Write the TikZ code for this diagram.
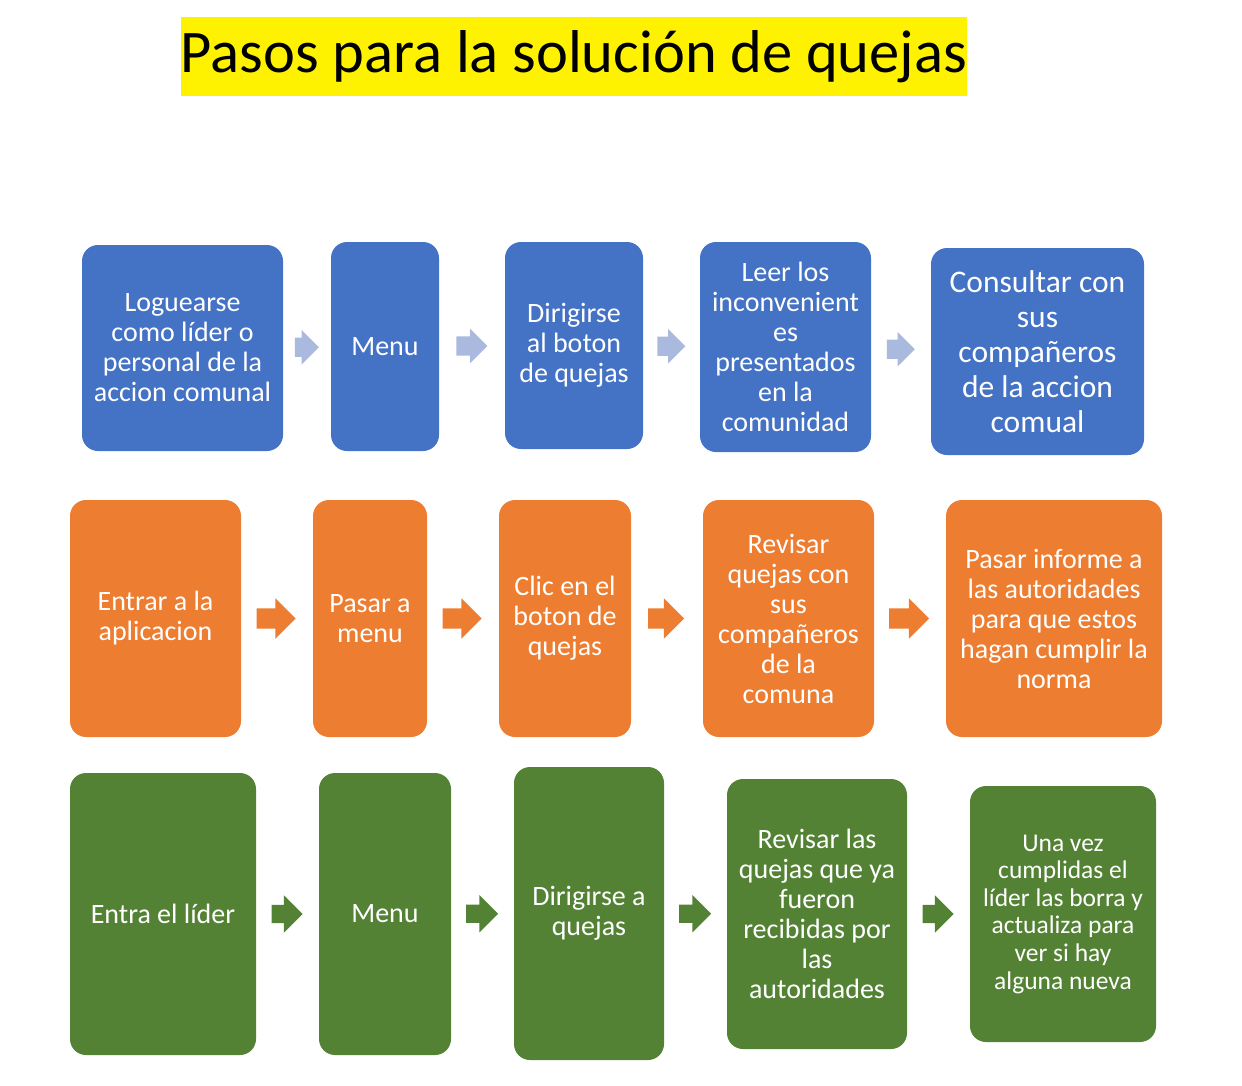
\documentclass[tikz,border=0pt]{standalone}
\usepackage{fontspec}
\setmainfont{Carlito}
\usetikzlibrary{shapes.arrows,calc}

\definecolor{pasoazul}{HTML}{4472C4}
\definecolor{pasonaranja}{HTML}{ED7D31}
\definecolor{pasoverde}{HTML}{548235}
\definecolor{flechaazul}{HTML}{AAB9DE}

\begin{document}
\begin{tikzpicture}[x=1pt,y=-1pt,
		caja/.style={rounded corners=16pt, text=white, align=center, inner sep=0pt, font=\fontsize{28}{30}\selectfont},
		flecha/.style={single arrow, inner xsep=0pt, inner ysep=9.5pt, single arrow head extend=8pt, xshift=-5pt}]
			\useasboundingbox (0,0) rectangle (1242,1085);
			% titulo
			\node[fill=yellow, minimum width=786pt, minimum height=79pt, inner sep=0pt, font=\fontsize{60.5}{64}\selectfont] (titulo) at (574,56.5) {Pasos para la solución de quejas};
			% fila azul
			\node[caja, fill=pasoazul, minimum width=201pt, minimum height=206pt] (b1) at (182.5,348) {Loguearse\\como líder o\\personal de la\\accion comunal};
			\node[caja, fill=pasoazul, minimum width=108pt, minimum height=209pt] (b2) at (385,346.5) {Menu};
			\node[caja, fill=pasoazul, minimum width=138pt, minimum height=207pt] (b3) at (574,345.5) {Dirigirse\\al boton\\de quejas};
			\node[caja, fill=pasoazul, minimum width=171pt, minimum height=210pt] (b4) at (785.5,347) {Leer los\\inconvenient\\es\\presentados\\en la\\comunidad};
			\node[caja, fill=pasoazul, minimum width=213pt, minimum height=207pt, font=\fontsize{31.5}{35}\selectfont] (b5) at (1037.5,351.5) {Consultar con\\sus\\compañeros\\de la accion\\comual};
			% fila naranja
			\node[caja, fill=pasonaranja, minimum width=171pt, minimum height=237pt] (o1) at (155.5,618.5) {Entrar a la\\aplicacion};
			\node[caja, fill=pasonaranja, minimum width=114pt, minimum height=237pt] (o2) at (370,618.5) {Pasar a\\menu};
			\node[caja, fill=pasonaranja, minimum width=132pt, minimum height=237pt] (o3) at (565,618.5) {Clic en el\\boton de\\quejas};
			\node[caja, fill=pasonaranja, minimum width=171pt, minimum height=237pt] (o4) at (788.5,618.5) {Revisar\\quejas con\\sus\\compañeros\\de la\\comuna};
			\node[caja, fill=pasonaranja, minimum width=216pt, minimum height=237pt] (o5) at (1054,618.5) {Pasar informe a\\las autoridades\\para que estos\\hagan cumplir la\\norma};
			% fila verde
			\node[caja, fill=pasoverde, minimum width=186pt, minimum height=282pt] (g1) at (163,914) {Entra el líder};
			\node[caja, fill=pasoverde, minimum width=132pt, minimum height=282pt] (g2) at (385,914) {Menu};
			\node[caja, fill=pasoverde, minimum width=150pt, minimum height=293pt] (g3) at (589,913.5) {Dirigirse a\\quejas};
			\node[caja, fill=pasoverde, minimum width=180pt, minimum height=270pt] (g4) at (817,914) {Revisar las\\quejas que ya\\fueron\\recibidas por\\las\\autoridades};
			\node[caja, fill=pasoverde, minimum width=186pt, minimum height=256pt, font=\fontsize{25.5}{27.6}\selectfont] (g5) at (1063,914) {Una vez\\cumplidas el\\líder las borra y\\actualiza para\\ver si hay\\alguna nueva};
			% flechas
			\foreach \a/\b/\len in {b1/b2/24, b2/b3/31, b3/b4/28, b4/b5/28}
				\node[flecha, fill=flechaazul, single arrow head extend=7.5pt, minimum height=\len pt] (f-\a) at ($(\a.east)!0.5!(\b.west)$) {};
			\foreach \a/\b/\len in {o1/o2/39, o2/o3/39, o3/o4/36, o4/o5/40}
				\node[flecha, fill=pasonaranja, inner ysep=10pt, single arrow head extend=10pt, minimum height=\len pt, xshift=-1pt] (f-\a) at ($(\a.east)!0.5!(\b.west)$) {};
			\foreach \a/\b/\len in {g1/g2/31, g2/g3/32, g3/g4/32, g4/g5/31}
				\node[flecha, fill=pasoverde, inner ysep=9pt, single arrow head extend=9.5pt, minimum height=\len pt] (f-\a) at ($(\a.east)!0.5!(\b.west)$) {};
		\end{tikzpicture}
\end{document}
